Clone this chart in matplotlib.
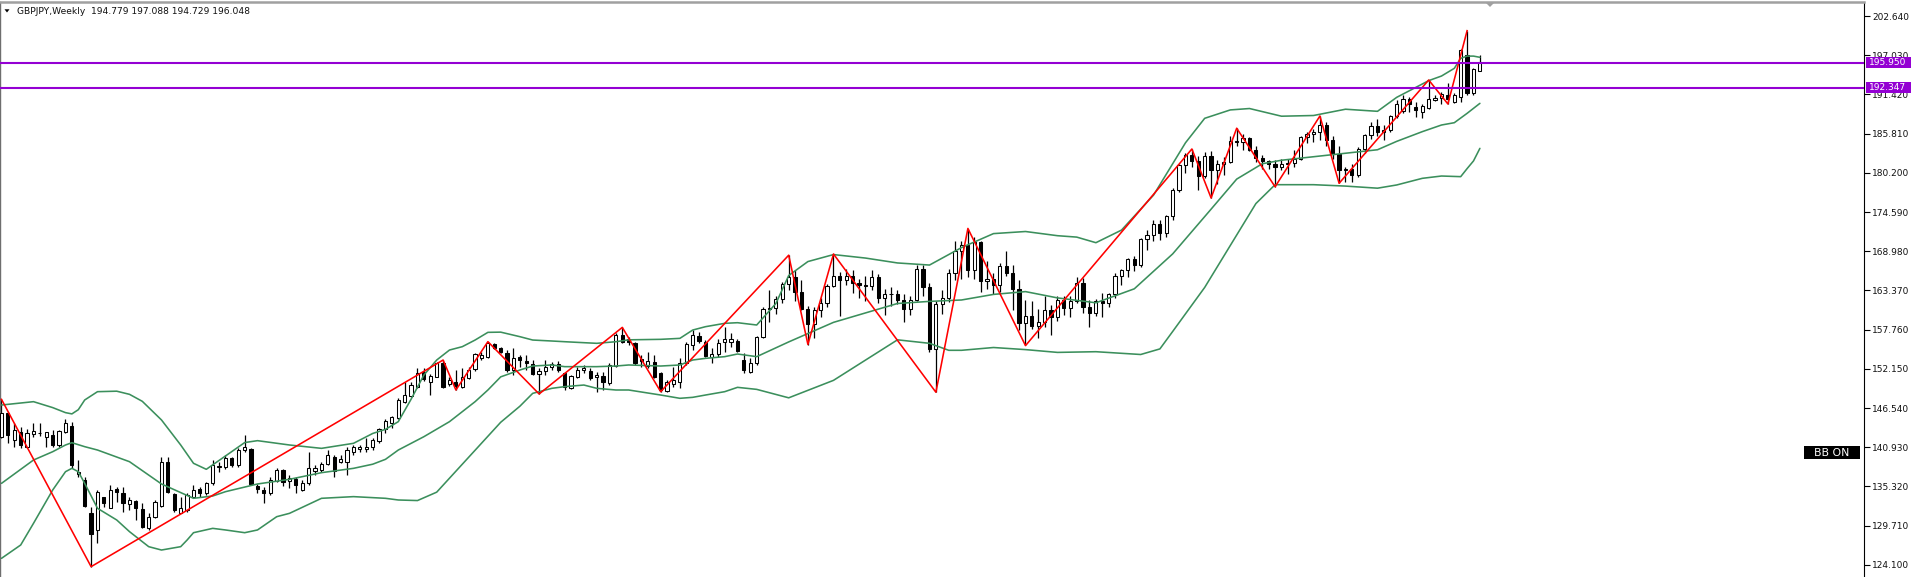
import matplotlib
matplotlib.use("Agg")
import matplotlib.pyplot as plt
from matplotlib.transforms import blended_transform_factory
from matplotlib.patches import Polygon, Rectangle
import numpy as np

# ---------------- data ----------------
header_text = "GBPJPY,Weekly  194.779 197.088 194.729 196.048"

opens = [
    142.44,145.78,141.96,143.16,141.01,142.82,142.92,142.44,142.68,141.25,
    143.16,143.97,137.10,136.24,131.47,129.09,133.76,132.18,134.90,134.33,
    132.81,133.19,132.09,129.32,130.90,132.57,138.86,134.24,131.57,131.95,
    133.86,134.90,134.33,135.76,138.05,138.05,139.34,138.39,140.53,140.68,
    135.38,134.81,134.33,136.10,137.67,136.10,136.43,134.81,135.76,137.58,
    137.67,138.53,139.58,138.86,138.86,140.29,140.63,140.72,141.01,141.87,
    143.49,144.35,145.06,147.45,148.26,149.60,151.74,150.31,151.03,153.03,
    149.98,150.31,149.60,150.79,152.08,153.65,153.89,155.70,155.08,154.36,
    151.98,153.79,153.32,152.84,151.41,151.88,152.46,152.84,151.60,149.36,
    151.03,151.98,151.88,150.93,151.12,150.07,152.55,156.99,156.37,155.89,
    153.51,152.55,153.18,151.60,149.02,149.98,150.31,153.03,155.56,156.85,
    156.04,153.89,154.27,156.04,156.04,156.18,153.41,151.74,152.93,156.70,
    160.7,160.9,162.2,164.3,165.3,163.2,160.7,158.5,160.6,161.6,
    164.0,165.5,164.9,165.5,164.5,164.2,164.0,165.3,162.3,162.8,
    162.9,162.0,160.7,162.0,166.4,163.8,155.0,161.4,162.3,165.8,
    169.0,169.8,166.3,170.3,164.7,165.0,164.1,166.8,165.9,163.6,
    158.7,159.7,158.3,158.8,160.6,159.5,162.0,160.9,161.9,164.5,
    161.0,160.2,161.8,161.5,162.8,165.5,166.3,167.9,167.0,170.7,
    171.3,172.9,171.6,174.0,177.7,181.3,182.8,181.9,179.8,182.6,
    180.6,181.4,181.8,184.8,184.6,185.2,183.5,182.3,181.9,181.5,
    181.1,181.5,181.6,182.2,185.3,185.7,186.0,187.0,184.9,182.9,
    180.6,180.7,179.9,183.6,185.6,186.9,186.0,186.3,188.3,189.09,
    190.72,189.67,188.95,189.43,190.62,190.86,191.34,190.38,191.10,197.06,
    191.67,194.779]

highs = [
    147.78,146.02,144.35,143.87,143.49,144.35,144.45,143.16,143.40,143.40,
    144.92,144.59,139.10,136.72,132.42,134.81,133.86,135.52,135.29,135.29,
    133.86,133.38,132.90,131.47,133.38,139.58,139.58,134.33,133.86,134.33,
    135.52,135.29,136.00,139.10,138.86,139.82,139.58,140.77,142.68,140.77,
    135.67,135.19,136.72,137.91,137.77,136.96,136.72,136.24,140.29,138.39,
    138.86,140.53,139.82,139.82,141.01,141.25,141.25,142.20,142.20,143.63,
    144.92,145.40,147.93,150.31,150.31,152.22,152.22,151.41,153.17,153.41,
    151.03,151.98,152.22,152.46,154.46,154.60,156.04,155.89,155.32,154.84,
    155.08,154.13,154.13,153.41,152.22,153.41,153.17,153.32,151.74,151.26,
    152.46,152.70,152.22,151.74,151.74,152.93,157.23,158.08,156.75,156.04,
    154.13,154.60,154.13,151.74,150.55,152.46,153.65,156.04,157.71,157.47,
    156.27,155.08,156.37,158.09,157.23,156.37,154.46,153.65,156.90,161.0,
    163.5,162.5,164.6,168.4,166.3,164.8,161.2,161.0,162.3,164.3,
    168.6,166.0,166.5,166.3,165.0,165.4,166.3,165.7,163.6,163.9,
    163.5,162.9,162.6,167.0,167.0,164.5,161.8,163.4,166.5,170.5,
    170.4,172.2,171.0,170.4,167.6,165.8,167.3,169.0,167.0,164.8,
    162.0,161.9,160.7,162.5,161.3,162.5,162.6,162.5,165.3,165.1,
    162.0,162.2,163.0,163.0,165.8,166.5,168.0,168.3,170.8,172.0,
    173.4,173.4,174.1,178.0,181.5,183.0,183.6,182.6,183.2,183.3,
    182.0,182.4,185.5,186.6,185.8,185.3,184.1,182.7,182.1,182.0,
    182.2,182.2,183.5,185.5,186.0,186.5,188.3,187.4,185.5,184.0,
    181.0,181.5,183.9,185.8,187.4,187.9,187.0,188.5,190.6,191.34,
    191.10,190.38,190.05,193.48,191.34,191.81,193.0,191.57,197.87,200.54,
    195.15,197.088]

lows = [
    142.20,141.60,141.01,140.77,140.77,142.44,142.54,141.01,141.01,141.01,
    142.92,137.91,136.72,132.42,123.84,127.18,132.42,132.18,133.14,131.71,
    131.95,130.52,129.32,129.09,130.76,132.42,134.33,131.71,131.47,131.71,
    133.62,133.86,134.09,135.52,137.43,137.77,138.15,138.05,140.29,135.52,
    134.43,132.90,134.09,136.00,135.38,135.05,134.33,134.71,135.52,136.96,
    137.43,138.39,136.72,138.63,136.96,139.82,140.29,140.29,140.53,141.49,
    142.92,143.63,144.92,147.21,148.07,149.36,150.45,148.40,150.93,149.36,
    149.69,149.12,149.36,150.64,151.88,153.41,153.65,154.94,154.37,151.74,
    151.26,152.46,151.98,151.26,148.55,151.26,151.98,151.74,149.12,149.21,
    150.79,151.50,150.55,148.88,149.12,149.83,152.46,155.80,155.56,152.70,
    152.46,152.22,150.79,148.88,148.88,149.60,149.36,152.70,154.84,155.89,
    153.89,152.93,153.89,154.60,155.32,154.60,151.60,151.50,152.70,156.5,
    158.8,160.0,161.5,163.5,161.8,160.5,155.6,156.5,159.6,161.0,
    163.8,159.7,164.2,163.0,162.3,161.9,163.5,161.5,159.8,161.1,
    161.4,158.9,159.9,161.8,162.5,154.5,148.8,160.0,161.7,164.9,
    165.0,165.3,165.0,163.1,163.6,162.9,163.2,165.5,160.5,157.7,
    155.5,157.8,156.5,158.2,157.0,159.0,159.9,159.5,161.6,160.2,
    158.2,159.7,159.5,161.0,162.3,164.1,165.3,166.1,166.7,169.2,
    170.4,170.6,171.0,173.5,177.5,180.2,181.0,177.7,179.5,176.6,
    178.6,179.9,181.6,184.0,183.5,183.3,181.8,180.8,180.8,178.2,
    180.6,180.0,181.0,182.0,184.5,184.6,184.9,184.1,182.2,178.7,
    178.9,178.9,179.6,183.0,185.0,185.4,184.9,186.0,188.0,188.71,
    188.95,188.14,187.98,189.29,190.52,190.05,190.05,190.14,190.38,191.34,
    191.34,194.729]

closes = [
    145.78,142.68,143.40,141.25,142.92,143.30,143.01,143.06,141.25,143.30,
    144.45,138.39,137.43,132.52,128.51,134.57,133.00,134.81,134.57,132.90,
    133.38,132.23,129.56,130.90,133.14,138.77,134.57,131.95,132.18,134.09,
    134.81,134.43,135.76,138.39,138.24,139.34,138.39,140.53,141.01,135.67,
    134.90,134.43,136.24,137.67,136.00,136.48,135.52,135.86,138.00,137.96,
    138.53,139.82,137.58,139.29,140.53,141.01,141.01,140.92,141.96,143.49,
    144.68,145.21,147.69,148.40,149.83,151.50,150.64,151.12,152.93,149.60,
    150.55,149.69,150.93,151.98,154.27,154.13,155.89,155.08,154.60,151.98,
    153.65,153.41,152.93,151.41,151.88,152.46,152.84,151.98,149.50,151.12,
    151.98,152.22,150.79,151.26,150.31,152.70,156.99,156.03,155.94,152.94,
    153.32,153.32,151.03,149.12,150.31,150.55,153.03,155.70,156.99,156.18,
    153.99,154.27,155.89,156.47,156.37,154.75,151.98,152.93,156.70,160.7,
    160.9,162.2,164.3,165.3,163.2,160.7,158.5,160.6,161.6,164.0,
    165.5,164.9,165.5,164.5,164.2,164.0,165.3,162.3,162.8,162.9,
    162.0,160.7,162.0,166.4,163.8,155.0,161.4,162.3,165.8,169.0,
    169.8,166.3,170.3,164.7,165.0,164.1,166.8,165.9,163.6,158.7,
    159.7,158.3,158.8,160.6,159.5,162.0,160.9,161.9,164.5,161.0,
    160.2,161.8,161.5,162.8,165.5,166.3,167.9,167.0,170.7,171.3,
    172.9,171.6,174.0,177.7,181.3,182.8,181.9,179.8,182.6,180.6,
    181.4,181.8,184.8,184.6,185.2,183.5,182.3,181.9,181.5,181.1,
    181.5,181.6,182.2,185.3,185.7,186.0,187.0,184.9,182.9,180.6,
    180.7,179.9,183.6,185.6,186.9,186.0,186.3,188.3,190.0,190.72,
    190.05,189.19,189.76,190.72,190.95,191.48,190.72,191.34,197.77,191.67,
    195.01,196.048]

# Bollinger band lines: (bar index, price)
bb_upper = [(0,146.97),(5,147.45),(8,146.6),(10,145.88),(11,145.7),(12,146.3),(13,147.69),
    (15,148.88),(18,148.95),(20,148.50),(22,147.5),(25,144.83),(28,141.25),(30,138.63),
    (32,137.77),(35,139.68),(38,141.6),(40,141.87),(45,141.25),(50,140.77),(55,141.49),
    (58,142.9),(60,143.49),(62,144.59),(64,147.8),(66,151.26),(68,153.41),(70,154.84),
    (72,155.32),(74,156.27),(76,157.37),(78,157.4),(81,156.75),(83,156.27),(86,156.13),
    (88,156.03),(91,155.89),(93,155.8),(96,156.03),(98,156.3),(103,156.37),(106,156.51),
    (108,157.7),(110,158.18),(113,158.66),(115,158.75),(118,158.42),(121,161.5),(123,165.5),
    (126,167.5),(130,168.5),(135,168.0),(140,167.3),(145,167.0),(150,169.5),(155,171.5),
    (160,171.8),(165,171.2),(168,171.0),(171,170.2),(175,172.0),(180,177.0),(185,184.5),
    (188,188.0),(192,189.2),(195,189.4),(200,188.3),(205,188.4),(210,189.3),(215,189.0),
    (218,191.0),(221,192.43),(223,193.39),(225,194.05),(227,195.15),(228,196.58),(229,196.9),
    (230,196.9),(231,196.73)]

bb_middle = [(0,135.76),(5,139.10),(8,140.29),(10,141.25),(11,141.58),(13,141.01),(15,140.53),
    (20,138.86),(25,135.67),(30,133.62),(33,133.95),(35,134.57),(40,135.67),(45,136.34),
    (50,137.29),(55,137.91),(58,138.5),(60,139.2),(62,140.53),(66,142.44),(70,144.59),
    (74,147.45),(76,149.12),(78,151.0),(81,151.98),(83,152.55),(86,152.7),(88,152.46),
    (91,152.46),(93,152.46),(96,152.55),(98,152.7),(103,152.55),(106,152.70),(108,153.41),
    (110,153.65),(113,153.89),(115,154.27),(118,153.89),(123,156.0),(130,158.8),(140,161.5),
    (145,161.8),(150,162.0),(155,162.8),(160,163.2),(165,162.3),(171,161.6),(177,163.6),
    (183,168.6),(189,175.0),(193,179.3),(197,181.5),(200,182.0),(205,182.5),(210,183.0),
    (215,183.5),(218,184.7),(222,186.09),(225,187.04),(227,187.37),(229,188.71),(231,190.14)]

bb_lower = [(0,125.03),(3,126.94),(5,130.04),(8,134.81),(10,137.43),(11,137.91),(12,137.43),
    (13,135.76),(15,132.19),(18,130.52),(20,128.85),(23,126.70),(25,126.22),(28,126.70),
    (29,127.65),(30,128.70),(33,129.32),(35,129.09),(38,128.70),(40,129.09),(43,130.99),
    (45,131.47),(50,133.62),(55,133.86),(60,133.62),(62,133.38),(65,133.3),(68,134.5),
    (71,137.5),(75,141.5),(78,144.5),(81,146.8),(83,148.64),(86,149.36),(88,149.6),
    (91,149.83),(93,149.36),(96,149.12),(98,149.12),(103,148.40),(106,147.93),(108,148.07),
    (110,148.40),(113,148.88),(115,149.50),(118,149.21),(123,148.0),(130,150.5),(140,156.3),
    (145,155.8),(148,154.8),(150,154.8),(155,155.2),(160,154.9),(165,154.5),(171,154.6),
    (178,154.2),(181,155.0),(183,157.5),(188,163.8),(192,169.8),(196,175.8),(199,178.5),
    (205,178.5),(210,178.3),(215,178.0),(218,178.46),(222,179.41),(225,179.74),(228,179.65),
    (229,180.8),(230,181.9),(231,183.70)]

# ZigZag pivots
zz_index = [0, 14, 69, 71, 76, 84, 97, 103, 123, 126, 130, 146, 151, 160, 186, 189, 193, 199, 206, 209, 223, 226, 229]
zz_price = [147.78, 123.84, 153.41, 149.12, 156.04, 148.55, 158.08, 148.88, 168.41, 155.64, 168.58, 148.80,
            172.24, 155.47, 183.61, 176.60, 186.58, 178.20, 188.33, 178.70, 193.48, 190.05, 200.54]

# horizontal levels
level_prices = [195.950, 192.347]
bid_price = 196.048

# right price scale
tick_prices = [124.100, 129.710, 135.320, 140.930, 146.540, 152.150, 157.760, 163.370,
               168.980, 174.590, 180.200, 185.810, 191.420, 197.030, 202.640]
tick_labels = ["%.3f" % v for v in tick_prices]

# ---------------- style / layout ----------------
W, H = 1915, 577
FONT = "DejaVu Sans"
plt.rcParams['font.family'] = [FONT]
BAND_COLOR = "#3b8f5c"
PURPLE = "#9400D3"

fig = plt.figure(figsize=(W / 100, H / 100), dpi=100)
fig.patch.set_facecolor("white")

right_px = 1864
top_px = 2
ax = fig.add_axes([0, 0, right_px / W, (H - top_px) / H])
ax.set_facecolor("white")

bar_step = 6.4
first_bar_px = 1.5
ax.set_xlim(-first_bar_px / bar_step, (right_px - first_bar_px) / bar_step)
ppx = 6.988  # pixels per price unit
ax.set_ylim(202.64 - (H - 16) / ppx, 202.64 + (16 - top_px) / ppx)

n = min(len(opens), len(highs), len(lows), len(closes))
idx = np.arange(n)
o = np.array(opens[:n]); hi = np.array(highs[:n]); lo = np.array(lows[:n]); c = np.array(closes[:n])
up = c >= o
body = c - o
body = np.where(np.abs(body) < 0.06, np.where(up, 0.06, -0.06), body)

ax.vlines(idx, lo, hi, color="black", lw=0.9, zorder=2)
ax.bar(idx, body, bottom=o, width=0.5, color=np.where(up, "white", "black"),
       edgecolor="black", linewidth=0.75, zorder=3)

for pts in (bb_upper, bb_middle, bb_lower):
    xs = [p[0] for p in pts]; ys = [p[1] for p in pts]
    ax.plot(xs, ys, color=BAND_COLOR, lw=1.15, zorder=4, solid_capstyle="round")

ax.plot(zz_index, zz_price, color="#ff0000", lw=1.15, zorder=5)

for lv in level_prices:
    ax.axhline(lv, color=PURPLE, lw=1.5, zorder=6)

# spines
ax.spines["bottom"].set_visible(False)
ax.spines["left"].set_color("#6e6e6e"); ax.spines["left"].set_linewidth(1.0)
ax.spines["top"].set_color("#a0a0a0"); ax.spines["top"].set_linewidth(1.8)
ax.spines["right"].set_color("black"); ax.spines["right"].set_linewidth(0.8)

ax.set_xticks([])
ax.yaxis.tick_right()
ax.set_yticks(tick_prices)
ax.set_yticklabels(tick_labels)
ax.tick_params(axis="y", direction="out", length=4, width=0.8, pad=2,
               labelsize=6.5, colors="black", labelcolor="#111111")

trans = blended_transform_factory(ax.transAxes, ax.transData)
box_h = 11 / ppx
# hidden bid label (only its top edge shows)
ax.add_patch(Rectangle((1866 / right_px, bid_price - box_h / 2 - 0.9 / ppx), 45 / right_px, box_h,
                       transform=trans, facecolor="black", edgecolor="black", lw=0, clip_on=False, zorder=8))
for lv in level_prices:
    ax.add_patch(Rectangle((1866 / right_px, lv - box_h / 2), 45 / right_px, box_h,
                           transform=trans, facecolor=PURPLE, edgecolor=PURPLE, lw=0, clip_on=False, zorder=9))
    ax.text(1868.5 / right_px, lv, "%.3f" % lv, transform=trans, ha="left", va="center",
            fontsize=6.5, color="white", clip_on=False, zorder=10)

# header text
fig.text(17 / W, 1 - 11.5 / H, header_text, ha="left", va="center", fontsize=6.6, color="#111111")
fig.patches.append(Polygon([[4.5 / W, 1 - 9.3 / H], [9.5 / W, 1 - 9.3 / H], [7 / W, 1 - 12.5 / H]],
                           closed=True, transform=fig.transFigure, facecolor="black", edgecolor="black", lw=0))
# chart-shift marker
fig.patches.append(Polygon([[1486 / W, 1 - 3 / H], [1494 / W, 1 - 3 / H], [1490 / W, 1 - 7 / H]],
                           closed=True, transform=fig.transFigure, facecolor="#a0a0a0", edgecolor="#a0a0a0", lw=0))

# BB ON label
fig.patches.append(Rectangle((1804 / W, 1 - 459 / H), 56 / W, 13 / H, transform=fig.transFigure,
                             facecolor="black", edgecolor="black", lw=0))
fig.text(1832 / W, 1 - 452.5 / H, "BB ON", ha="center", va="center", fontsize=7.8, color="white")

fig.savefig("out.png", dpi=100, facecolor="white")
